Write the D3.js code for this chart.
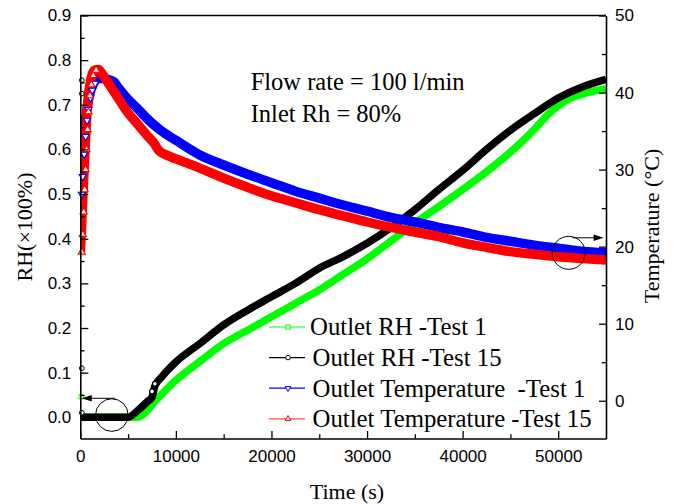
<!DOCTYPE html>
<html><head><meta charset="utf-8">
<script src="https://cdn.jsdelivr.net/npm/d3@7"></script>
<style>body{margin:0;background:#fff}svg{display:block}</style>
</head><body><svg id="c" width="678" height="504"></svg>
<script>
// ---------- data ----------
const xTicks = [0, 10000, 20000, 30000, 40000, 50000];
const xMinorTicks = [5000, 15000, 25000, 35000, 45000];
const rhTicks = [0, 0.1, 0.2, 0.3, 0.4, 0.5, 0.6, 0.7, 0.8, 0.9];
const rhMinorTicks = [0.05, 0.15, 0.25, 0.35, 0.45, 0.55, 0.65, 0.75, 0.85];
const tempTicks = [0, 10, 20, 30, 40, 50];
const tempMinorTicks = [5, 15, 25, 35, 45];

const legendLabels = ["Outlet RH -Test 1", "Outlet RH -Test 15", "Outlet Temperature  -Test 1", "Outlet Temperature -Test 15"];

// Outlet RH - Test 1 (green, left axis)
const rh1Time  = [0, 3000, 6000, 6500, 8000, 10000, 12500, 15000, 17500, 20000, 22500, 25000, 27500, 30000, 32500, 35000, 37500, 40000, 42500, 45000, 47500, 49000, 50000, 51000, 52500, 55000];
const rh1Value = [0, 0, 0, 0.005, 0.04, 0.083, 0.125, 0.165, 0.195, 0.225, 0.255, 0.285, 0.32, 0.355, 0.395, 0.435, 0.472, 0.51, 0.55, 0.594, 0.645, 0.68, 0.698, 0.712, 0.724, 0.736];
const rh1InitTime = [0];
const rh1InitValue = [0.046];

// Outlet RH - Test 15 (black, left axis)
const rh15Time  = [0, 3000, 5000, 6000, 7000, 7500, 7800, 8500, 10000, 12500, 15000, 17500, 20000, 22500, 25000, 27500, 30000, 32500, 35000, 37500, 40000, 42500, 45000, 47500, 50000, 52500, 55000];
const rh15Value = [0, 0, 0, 0.015, 0.035, 0.045, 0.07, 0.09, 0.124, 0.165, 0.207, 0.24, 0.27, 0.30, 0.334, 0.36, 0.39, 0.425, 0.465, 0.51, 0.553, 0.6, 0.643, 0.68, 0.715, 0.74, 0.757];
const rh15InitTime = [0, 0, 0, 0];
const rh15InitValue = [0.755, 0.725, 0.11, 0.01];
const rh15JumpTime = [7500, 7800];
const rh15JumpValue = [0.058, 0.075];

// Outlet Temperature - Test 1 (blue, right axis)
const temp1Time  = [0, 100, 250, 400, 550, 700, 900, 1100, 1400, 1900, 2800, 3500, 4000, 4900, 6000, 7000, 8400, 10000, 12500, 15000, 17500, 20000, 22500, 25000, 27500, 30000, 32500, 35000, 37500, 40000, 42500, 45000, 47500, 50000, 52500, 55000];
const temp1Value = [26.8, 29.1, 32.0, 34.3, 36.4, 37.8, 39.3, 40.3, 41.2, 41.85, 41.75, 41.4, 40.6, 39.25, 37.9, 36.6, 35.1, 33.8, 31.9, 30.6, 29.4, 28.3, 27.2, 26.3, 25.4, 24.6, 23.8, 23.2, 22.5, 21.9, 21.2, 20.7, 20.2, 19.8, 19.4, 19.2];

// Outlet Temperature - Test 15 (red, right axis)
const temp15Time  = [0, 100, 200, 300, 400, 500, 600, 700, 850, 1000, 1200, 1500, 1900, 2300, 3000, 4000, 4900, 6000, 7000, 7700, 8200, 9000, 10000, 12500, 15000, 17500, 20000, 22500, 25000, 27500, 30000, 32500, 35000, 37500, 40000, 42500, 45000, 47500, 50000, 52500, 55000];
const temp15Value = [19.3, 21.6, 24.5, 27.4, 30.0, 32.6, 35.2, 37.5, 39.6, 41.0, 42.2, 42.9, 43.0, 42.4, 41.1, 39.2, 37.5, 35.9, 34.4, 33.45, 32.5, 31.9, 31.4, 30.2, 28.9, 27.7, 26.6, 25.7, 24.8, 24.0, 23.2, 22.5, 21.9, 21.3, 20.5, 19.9, 19.35, 19.0, 18.7, 18.45, 18.25];

// annotation marks (data units)
const leftCircle = {time: 3300, rh: 0.005};
const leftArrow = {fromTime: 3650, toTime: 150, rh: 0.0426};
const rightCircle = {time: 51100, temp: 19.2};
const rightArrow = {fromTime: 51500, toTime: 54750, temp: 21.15};

// ---------- layout ----------
const svg = d3.select("#c");
const L = 80.3, R = 606, T = 15.5, B = 438.5;
const x = d3.scaleLinear().domain([0, 55000]).range([L, R]);
const yL = d3.scaleLinear().domain([-0.0475, 0.9]).range([B, T]);
const yR = d3.scaleLinear().domain([-4.9, 50]).range([B, T]);

const sansFont = "'Liberation Sans', Arial, sans-serif";
const serifFont = "'Liberation Serif', 'Times New Roman', serif";

svg.append("defs").append("clipPath").attr("id", "clip")
  .append("rect").attr("x", L).attr("y", T).attr("width", R - L).attr("height", B - T);

const zip = (ts, vs) => ts.map((t, i) => ({t, v: vs[i]}));
const series = [
  {data: zip(rh1Time, rh1Value), y: yL, color: "#00ff00", w: 7.5, sym: d3.symbolSquare},
  {data: zip(rh15Time, rh15Value), y: yL, color: "#000000", w: 7.5, sym: d3.symbolCircle},
  {data: zip(temp1Time, temp1Value), y: yR, color: "#0000ff", w: 9.5, sym: d3.symbolTriangle, rot: 180, markUntil: 1400},
  {data: zip(temp15Time, temp15Value), y: yR, color: "#ff0000", w: 9.5, sym: d3.symbolTriangle, rot: 0, markUntil: 1500}
];

const bands = svg.append("g").attr("clip-path", "url(#clip)");
series.forEach(s => {
  const line = d3.line().x(d => x(d.t)).y(d => s.y(d.v)).curve(d3.curveMonotoneX);
  bands.append("path").datum(s.data).attr("d", line)
    .attr("fill", "none").attr("stroke", s.color).attr("stroke-width", s.w)
    .attr("stroke-linejoin", "round").attr("stroke-linecap", "butt");
});

// isolated initial readings
const initMarks = svg.append("g");
zip(rh1InitTime, rh1InitValue).forEach(d => {
  initMarks.append("path").attr("d", d3.symbol(d3.symbolSquare, 20)())
    .attr("transform", `translate(${x(d.t) + 1},${yL(d.v)})`)
    .attr("fill", "#fff").attr("stroke", "#00ff00").attr("stroke-width", 1);
});
zip(rh15InitTime, rh15InitValue).forEach(d => {
  initMarks.append("path").attr("d", d3.symbol(d3.symbolCircle, 18)())
    .attr("transform", `translate(${x(d.t) + 1.5},${yL(d.v)})`)
    .attr("fill", "#fff").attr("stroke", "#000").attr("stroke-width", 1);
});
zip(rh15JumpTime, rh15JumpValue).forEach(d => {
  initMarks.append("path").attr("d", d3.symbol(d3.symbolCircle, 18)())
    .attr("transform", `translate(${x(d.t)},${yL(d.v)})`)
    .attr("fill", "#fff").attr("stroke", "#000").attr("stroke-width", 1.2);
});

// open markers on the steep start of temperature curves
series.filter(s => s.markUntil).forEach(s => {
  svg.append("g").selectAll("path").data(s.data.filter(d => d.t <= s.markUntil)).join("path")
    .attr("d", d3.symbol(s.sym, 22)())
    .attr("transform", d => `translate(${x(d.t) + 1.5},${s.y(d.v)}) rotate(${s.rot})`)
    .attr("fill", "#fff").attr("stroke", s.color).attr("stroke-width", 1.1);
});

// ---------- axes ----------
function styleAxis(g) {
  g.selectAll(".domain").attr("stroke", "#000").attr("stroke-width", 1.6);
  g.selectAll(".tick line").attr("stroke", "#000").attr("stroke-width", 1.3);
  g.selectAll(".tick text").attr("font-family", sansFont).attr("font-size", 17).attr("fill", "#000");
}
const gx = svg.append("g").attr("transform", `translate(0,${B})`)
  .call(d3.axisBottom(x).tickValues(xTicks).tickFormat(d3.format("d")).tickSizeInner(-7.5).tickSizeOuter(0).tickPadding(11.5));
styleAxis(gx);
const gxm = svg.append("g").attr("transform", `translate(0,${B})`)
  .call(d3.axisBottom(x).tickValues(xMinorTicks).tickFormat("").tickSizeInner(-4.3).tickSizeOuter(0));
gxm.select(".domain").remove(); styleAxis(gxm);

const gl = svg.append("g").attr("transform", `translate(${L},0)`)
  .call(d3.axisLeft(yL).tickValues(rhTicks).tickFormat(d3.format(".1f")).tickSizeInner(-8).tickSizeOuter(0).tickPadding(9));
styleAxis(gl);
const glm = svg.append("g").attr("transform", `translate(${L},0)`)
  .call(d3.axisLeft(yL).tickValues(rhMinorTicks).tickFormat("").tickSizeInner(-4.3).tickSizeOuter(0));
glm.select(".domain").remove(); styleAxis(glm);

const gr = svg.append("g").attr("transform", `translate(${R},0)`)
  .call(d3.axisRight(yR).tickValues(tempTicks).tickFormat(d3.format("d")).tickSizeInner(-7).tickSizeOuter(0).tickPadding(9));
styleAxis(gr);
const grm = svg.append("g").attr("transform", `translate(${R},0)`)
  .call(d3.axisRight(yR).tickValues(tempMinorTicks).tickFormat("").tickSizeInner(-4.3).tickSizeOuter(0));
grm.select(".domain").remove(); styleAxis(grm);

svg.append("line").attr("x1", L).attr("x2", R).attr("y1", T).attr("y2", T)
  .attr("stroke", "#000").attr("stroke-width", 1.6);

// axis titles
svg.append("text").attr("x", 347).attr("y", 499).attr("text-anchor", "middle")
  .attr("font-family", serifFont).attr("font-size", 22).text("Time (s)");
svg.append("text").attr("transform", "translate(32,227) rotate(-90)").attr("text-anchor", "middle")
  .attr("font-family", serifFont).attr("font-size", 22).text("RH(×100%)");
svg.append("text").attr("transform", "translate(659,226) rotate(-90)").attr("text-anchor", "middle")
  .attr("font-family", serifFont).attr("font-size", 22).text("Temperature (°C)");

// annotation text
svg.append("text").attr("x", 250.7).attr("y", 90).attr("font-family", serifFont).attr("font-size", 24.5).text("Flow rate = 100 l/min");
svg.append("text").attr("x", 250.7).attr("y", 121.7).attr("font-family", serifFont).attr("font-size", 24.5).text("Inlet Rh = 80%");

// circles and arrows
const ann = svg.append("g").attr("fill", "none").attr("stroke", "#000").attr("stroke-width", 1);
ann.append("circle").attr("cx", x(leftCircle.time)).attr("cy", yL(leftCircle.rh)).attr("r", 16.3);
ann.append("circle").attr("cx", x(rightCircle.time)).attr("cy", yR(rightCircle.temp)).attr("r", 16.5);
function arrow(x1, x2, y) {
  const dir = Math.sign(x2 - x1);
  ann.append("line").attr("x1", x1).attr("x2", x2 - dir * 8).attr("y1", y).attr("y2", y);
  svg.append("path").attr("d", `M${x2},${y} L${x2 - dir * 10},${y - 3.3} L${x2 - dir * 10},${y + 3.3} Z`).attr("fill", "#000");
}
arrow(x(leftArrow.fromTime), x(leftArrow.toTime), yL(leftArrow.rh));
arrow(x(rightArrow.fromTime), x(rightArrow.toTime), yR(rightArrow.temp));

// legend
const legSyms = [
  {sym: d3.symbolSquare, size: 20, rot: 0},
  {sym: d3.symbolCircle, size: 16, rot: 0},
  {sym: d3.symbolTriangle, size: 14, rot: 180},
  {sym: d3.symbolTriangle, size: 14, rot: 0}
];
const leg = svg.append("g");
legendLabels.forEach((lab, i) => {
  const cy = 327 + i * 30.6;
  const c = series[i].color;
  leg.append("line").attr("x1", 269).attr("x2", 305).attr("y1", cy).attr("y2", cy)
    .attr("stroke", c).attr("stroke-width", 1.2).attr("opacity", i === 3 ? 0.7 : 1);
  leg.append("path").attr("d", d3.symbol(legSyms[i].sym, legSyms[i].size)())
    .attr("transform", `translate(288,${cy}) rotate(${legSyms[i].rot})`)
    .attr("fill", "#fff").attr("stroke", c).attr("stroke-width", 1);
  leg.append("text").attr("x", i === 0 ? 310 : 312.5).attr("y", cy + 8.3)
    .attr("font-family", serifFont).attr("font-size", 24.8)
    .style("white-space", "pre").text(lab);
});
</script>
</body></html>
